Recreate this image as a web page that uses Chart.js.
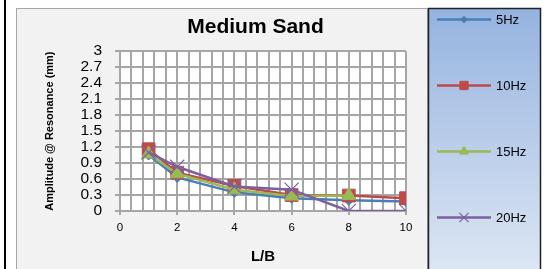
<!DOCTYPE html>
<html>
<head>
<meta charset="utf-8">
<script src="https://cdn.jsdelivr.net/npm/chart.js@4"></script>
<style>
  html, body { margin: 0; padding: 0; background: #fff; }
  #wrap { position: relative; width: 545px; height: 269px; }
</style>
</head>
<body>
<div id="wrap"><canvas id="myChart" width="545" height="269"></canvas></div>
<script>
// data
const lbRatio = [1, 2, 4, 6, 8, 10];
const hz5  = [1.05, 0.63, 0.35, 0.24, 0.20, 0.18];
const hz10 = [1.16, 0.72, 0.47, 0.30, 0.29, 0.24];
const hz15 = [1.07, 0.70, 0.40, 0.28, 0.29, null];
const hz20 = [1.10, 0.83, 0.46, 0.40, 0, 0];
const seriesNames = ['5Hz', '10Hz', '15Hz', '20Hz'];
const xMax = 10;
const xMinorStep = 0.4;   // minor gridlines, labels only every 2

const FONT = "'Liberation Sans', Arial, sans-serif";
Chart.defaults.color = '#000';
Chart.defaults.font.family = FONT;

const toPoints = arr => lbRatio.map((x, i) => ({ x: x, y: arr[i] }));

function makeSet(name, arr, color, style, radius, order) {
    return {
        label: name,
        data: toPoints(arr),
        borderColor: color,
        backgroundColor: color,
        borderWidth: 2.5,
        pointStyle: style,
        pointRadius: radius,
        pointHoverRadius: radius,
        pointBorderColor: color,
        pointBackgroundColor: color,
        pointBorderWidth: style === 'crossRot' ? 1.2 : 1,
        spanGaps: false,
        tension: 0,
        order: order
    };
}

// page furniture: frame, grey chart box, blue legend panel, white plot
const frame = {
    id: 'frame',
    beforeDraw(chart) {
        const c = chart.ctx;
        const a = chart.chartArea;
        c.save();
        c.fillStyle = '#fff';
        c.fillRect(0, 0, 545, 269);
        c.fillStyle = '#000';
        c.fillRect(4, 0, 2, 269);
        c.fillStyle = '#f2f2f2';
        c.fillRect(16, 8, 412, 261);
        c.strokeStyle = '#a6a6a6';
        c.lineWidth = 1;
        c.strokeRect(16.5, 8.5, 411, 262);
        const g = c.createLinearGradient(0, 8, 0, 269);
        g.addColorStop(0, '#95b3e0');
        g.addColorStop(1, '#dce6f3');
        c.fillStyle = g;
        c.fillRect(428, 8, 113, 261);
        c.strokeStyle = '#222';
        c.lineWidth = 1.5;
        c.strokeRect(428.5, 8.5, 112, 262);
        c.fillStyle = '#fff';
        c.fillRect(a.left, a.top, a.right - a.left, a.bottom - a.top);
        c.restore();
    },
    afterDraw(chart) {
        // legend panel
        const c = chart.ctx;
        c.save();
        chart.data.datasets.forEach((ds, i) => {
            const y = 19.5 + 66 * i;
            c.strokeStyle = ds.borderColor;
            c.lineWidth = 2.5;
            c.beginPath();
            c.moveTo(437, y);
            c.lineTo(491, y);
            c.stroke();
            c.fillStyle = ds.pointBackgroundColor;
            c.strokeStyle = ds.pointBorderColor;
            c.lineWidth = ds.pointBorderWidth;
            Chart.helpers.drawPoint(c, {
                pointStyle: ds.pointStyle,
                radius: ds.pointRadius * 0.65,
                borderWidth: ds.pointBorderWidth,
                rotation: 0
            }, 464, y);
            c.fillStyle = '#000';
            c.font = '13px ' + FONT;
            c.textBaseline = 'middle';
            c.textAlign = 'left';
            c.fillText(ds.label, 496, y + 0.5);
        });
        c.restore();
    }
};

const isMajorX = v => Math.round(v * 10) % 20 === 0;

new Chart(document.getElementById('myChart'), {
    type: 'line',
    data: {
        datasets: [
            makeSet(seriesNames[0], hz5, '#4a7ebb', 'rectRot', 5, 3),
            makeSet(seriesNames[1], hz10, '#be4b48', 'rect', 9, 2),
            makeSet(seriesNames[2], hz15, '#98b954', 'triangle', 8, 1),
            makeSet(seriesNames[3], hz20, '#7d60a0', 'crossRot', 10, 0)
        ]
    },
    options: {
        responsive: false,
        animation: false,
        layout: { padding: { left: 40, right: 74, top: 0, bottom: 0 } },
        plugins: {
            legend: { display: false },
            tooltip: { enabled: false },
            title: {
                display: true,
                text: 'Medium Sand',
                font: { size: 21, weight: 'bold' },
                padding: { top: 15, bottom: 11 }
            }
        },
        scales: {
            x: {
                type: 'linear',
                min: 0,
                max: xMax,
                afterBuildTicks: axis => {
                    const n = Math.round(xMax / xMinorStep);
                    axis.ticks = Array.from({ length: n + 1 }, (_, i) => ({ value: Math.round(i * xMinorStep * 10) / 10 }));
                },
                ticks: {
                    autoSkip: false,
                    maxRotation: 0,
                    padding: 6,
                    font: { size: 11.5 },
                    callback: v => isMajorX(v) ? String(Math.round(v)) : ''
                },
                grid: {
                    color: '#a6a6a6',
                    lineWidth: 2,
                    tickLength: 4,
                    tickColor: ctx => (ctx.tick && isMajorX(ctx.tick.value)) ? '#a6a6a6' : 'rgba(0,0,0,0)'
                },
                border: { color: '#a6a6a6', width: 2 },
                title: {
                    display: true,
                    text: 'L/B',
                    font: { size: 15, weight: 'bold' },
                    padding: { top: 0, bottom: 3 }
                },
                afterFit: s => { s.height = 58; }
            },
            y: {
                min: 0,
                max: 3,
                ticks: {
                    stepSize: 0.3,
                    maxTicksLimit: 100,
                    autoSkip: false,
                    padding: 13,
                    font: { size: 15.5 },
                    callback: v => String(Math.round(v * 10) / 10)
                },
                grid: { color: '#a6a6a6', lineWidth: 2, tickLength: 5 },
                border: { color: '#a6a6a6', width: 2 },
                title: {
                    display: true,
                    text: 'Amplitude @ Resonance (mm)',
                    font: { size: 11, weight: 'bold' },
                    padding: { top: 3, bottom: 0 }
                },
                afterFit: s => { s.width = 80; }
            },
            // empty spacer so the title centres like the original
            y2: {
                position: 'right',
                display: true,
                grid: { display: false },
                border: { display: false },
                ticks: { display: false },
                afterFit: s => { s.width = 65; }
            }
        }
    },
    plugins: [frame]
});
</script>
</body>
</html>
